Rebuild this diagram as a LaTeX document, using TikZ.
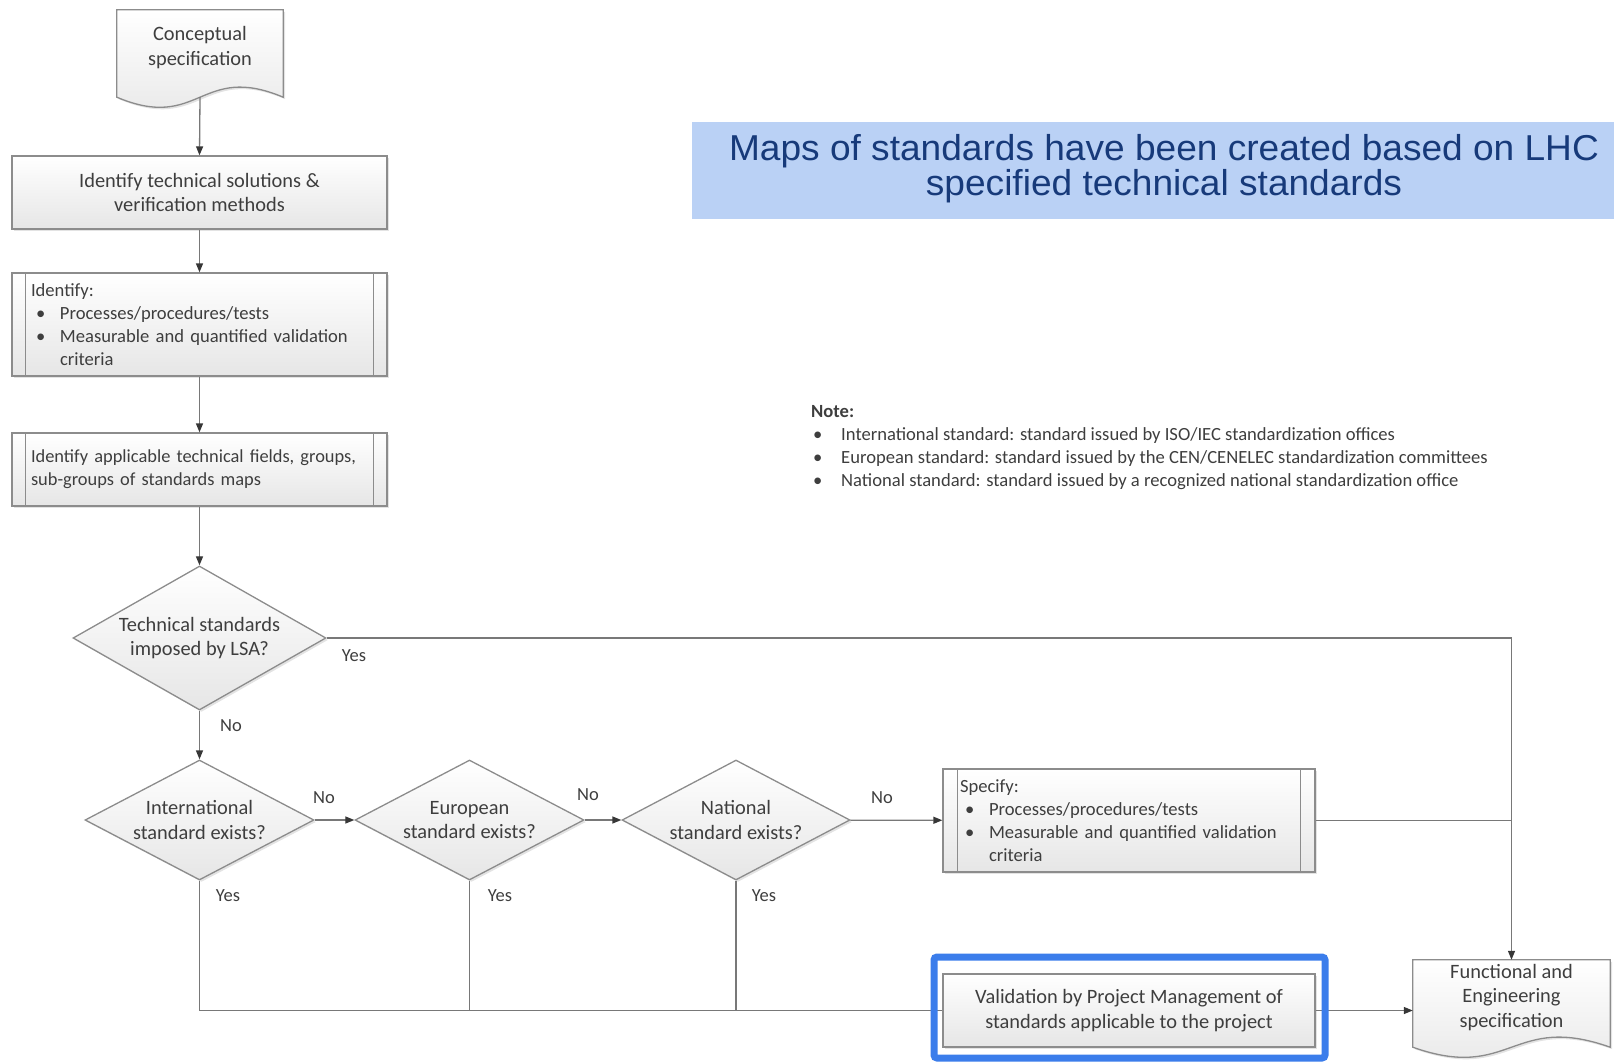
\documentclass[tikz,border=0pt]{standalone}
\usepackage{fontspec}
\setmainfont{Carlito}
\newfontfamily\bannerfont[FakeStretch=1.03]{Liberation Sans}
\usetikzlibrary{shapes.geometric,arrows.meta,shadows}

\definecolor{linegray}{RGB}{120,120,120}
\definecolor{tipdark}{RGB}{55,55,55}
\definecolor{boxborder}{RGB}{140,140,140}
\definecolor{boxbottom}{RGB}{230,230,230}
\definecolor{textgray}{RGB}{62,62,62}
\definecolor{bannerfill}{RGB}{186,209,245}
\definecolor{bannertext}{RGB}{23,58,122}
\definecolor{frameblue}{RGB}{59,125,235}

% bullet with its indent and the width reserved before the item text
\newcommand{\bul}{\hspace*{5pt}\makebox[24pt][l]{\textbullet}}
\newcommand{\bulcont}{\hspace*{29pt}}

\begin{document}
\begin{tikzpicture}[
  x=1pt, y=-1pt,
  conn/.style={draw=linegray, line width=1.3pt},
  arr/.style={conn, -{Triangle[length=9pt,width=7pt,color=tipdark]}},
  shapefill/.style={draw=boxborder, line width=1.3pt, top color=white, bottom color=boxbottom,
    drop shadow={shadow xshift=2pt, shadow yshift=-2pt, opacity=0.22}},
  flowtext/.style={text=textgray, font=\fontsize{20.4}{24.7}\selectfont},
  stepbox/.style={shapefill, flowtext, rectangle, inner sep=0pt, align=center},
  listbox/.style={shapefill, flowtext, rectangle, inner ysep=0pt, inner xsep=19pt, align=left,
    font=\fontsize{18.6}{22.8}\selectfont},
  decision/.style={shapefill, flowtext, diamond, inner sep=0pt, align=center},
  docnode/.style={flowtext, rectangle, inner sep=0pt, align=center},
  lbl/.style={text=textgray, font=\fontsize{18.5}{20}\selectfont, inner sep=0pt},
]
\useasboundingbox (0,0) rectangle (1614,1062);

% ---- heading banner ----
\fill[bannerfill] (692,122.5) rectangle (1640,219);
\node[text=bannertext, align=center, inner sep=0pt, font=\bannerfont\fontsize{36}{34.5}\selectfont]
  (banner) at (1164,168.5) {Maps of standards have been created based on LHC\\specified technical standards};

% ---- note ----
\node[anchor=north west, inner sep=0pt, align=left, text=textgray,
      font=\fontsize{18.6}{23}\selectfont] (note) at (811,405)
  {\textbf{Note:}\\
   \hspace*{2pt}\makebox[28pt][l]{\textbullet}International standard: standard issued by ISO/IEC standardization offices\\
   \hspace*{2pt}\makebox[28pt][l]{\textbullet}European standard: standard issued by the CEN/CENELEC standardization committees\\
   \hspace*{2pt}\makebox[28pt][l]{\textbullet}National standard: standard issued by a recognized national standardization office};

% ---- left column ----
\node[docnode, minimum width=166pt, minimum height=75pt] (concept) at (200,47.5) {};
\fill[shapefill] (concept.north west) -- (concept.north east) -- ([yshift=-12pt]concept.south east)
  .. controls +(-83,-35) and +(83,35) .. ([yshift=-12pt]concept.south west) -- cycle;
\node[docnode] (concepttext) at (concept) {Conceptual\\specification};
\coordinate (conceptout) at ([yshift=-12pt]concept.south);

\node[stepbox, minimum width=375pt, minimum height=73pt] (solutions) at (199.5,192.5)
  {Identify technical solutions \&\\verification methods};

\node[listbox, text width=337pt, minimum height=103pt] (identify) at (199.5,324.5)
  {Identify:\\
   \bul Processes/procedures/tests\\
   \bul Measurable and quantified validation\\
   \bulcont criteria};
\draw[draw=boxborder, line width=1.3pt]
  ([xshift=14pt]identify.north west) -- ([xshift=14pt]identify.south west)
  ([xshift=-14pt]identify.north east) -- ([xshift=-14pt]identify.south east);

\node[listbox, text width=337pt, minimum height=73pt, font=\fontsize{18.4}{23}\selectfont] (fields) at (199.5,469.5)
  {Identify applicable technical fields, groups,\\sub-groups of standards maps};
\draw[draw=boxborder, line width=1.3pt]
  ([xshift=14pt]fields.north west) -- ([xshift=14pt]fields.south west)
  ([xshift=-14pt]fields.north east) -- ([xshift=-14pt]fields.south east);

\node[decision, aspect=1.757, minimum width=253pt, minimum height=144pt] (lsa) at (199.5,638)
  {Technical standards\\imposed by LSA?};

% ---- row of decisions ----
\node[decision, aspect=1.9, minimum width=229pt, minimum height=120pt] (intl) at (199.5,820)
  {International\\standard exists?};
\node[decision, aspect=1.9, minimum width=229pt, minimum height=120pt] (euro) at (469.5,820)
  {European\\standard exists?};
\node[decision, aspect=1.9, minimum width=228pt, minimum height=120pt] (natl) at (736,820)
  {National\\standard exists?};

\node[listbox, inner xsep=17pt, text width=338pt, minimum height=103pt] (specify) at (1129,820.5)
  {Specify:\\
   \bul Processes/procedures/tests\\
   \bul Measurable and quantified validation\\
   \bulcont criteria};
\draw[draw=boxborder, line width=1.3pt]
  ([xshift=15pt]specify.north west) -- ([xshift=15pt]specify.south west)
  ([xshift=-15pt]specify.north east) -- ([xshift=-15pt]specify.south east);

\node[stepbox, minimum width=372pt, minimum height=73pt] (validation) at (1129,1010.5)
  {Validation by Project Management of\\standards applicable to the project};

% ---- output document ----
\node[docnode, minimum width=197pt, minimum height=75pt] (functional) at (1511.5,997.5) {};
\fill[shapefill] (functional.north west) -- (functional.north east) -- ([yshift=-12pt]functional.south east)
  .. controls +(-98.5,-35) and +(98.5,35) .. ([yshift=-12pt]functional.south west) -- cycle;
\node[docnode] (functionaltext) at (functional) {Functional and\\Engineering\\specification};

% ---- connectors ----
\draw[arr] (conceptout) -- (solutions.north);
\draw[arr] (solutions) -- (identify);
\draw[arr] (identify) -- (fields);
\draw[arr] (fields) -- (lsa);
\draw[arr] (lsa) -- (intl);
\draw[arr] (lsa.east) -| (functional.north);
\draw[arr] (intl) -- (euro);
\draw[arr] (euro) -- (natl);
\draw[arr] (natl) -- (specify);
\draw[conn] (specify.east) -- (specify.east -| functional.north);
\draw[conn] (intl.south) |- (validation.west);
\draw[conn] (euro.south) -- (euro.south |- validation.west);
\draw[conn] (natl.south) -- (natl.south |- validation.west);
\draw[arr] (validation.east) -- (validation.east -| functional.west);

% ---- branch labels ----
\node[lbl] (yes1) at (354,656) {Yes};
\node[lbl] (no1) at (231,726) {No};
\node[lbl] (no2) at (324,798) {No};
\node[lbl] (no3) at (588,795) {No};
\node[lbl] (no4) at (882,798) {No};
\node[lbl] (yes2) at (228,896) {Yes};
\node[lbl] (yes3) at (500,896) {Yes};
\node[lbl] (yes4) at (764,896) {Yes};

% ---- highlight around the validation step ----
\node[draw=frameblue, line width=7pt, rounded corners=3pt, minimum width=391pt,
      minimum height=101pt, inner sep=0pt] (highlight) at (1129.5,1007.5) {};
\end{tikzpicture}
\end{document}
